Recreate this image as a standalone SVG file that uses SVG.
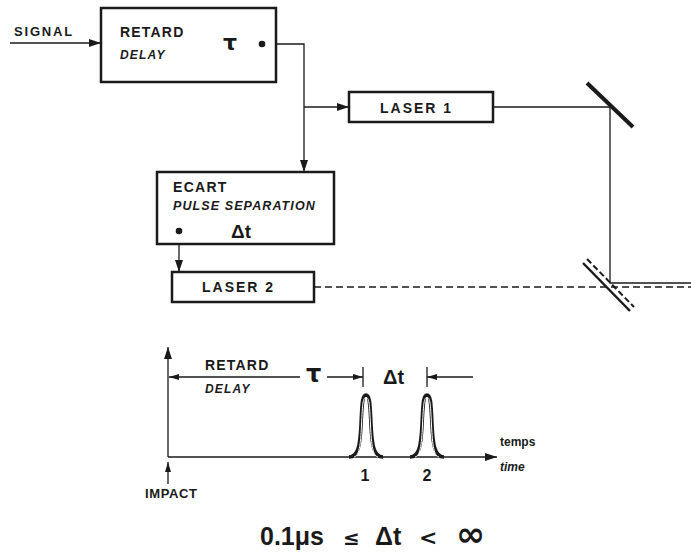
<svg xmlns="http://www.w3.org/2000/svg" width="691" height="558" viewBox="0 0 691 558">
<defs>
<marker id="ah" viewBox="0 0 12 8" refX="12" refY="4" markerWidth="12" markerHeight="8" markerUnits="userSpaceOnUse" orient="auto"><path d="M0,0 L12,4 L0,8 Z" fill="#1a1a1a"/></marker>
<marker id="ahs" viewBox="0 0 10 6" refX="10" refY="3" markerWidth="10" markerHeight="6" markerUnits="userSpaceOnUse" orient="auto"><path d="M0,0 L10,3 L0,6 Z" fill="#1a1a1a"/></marker>
</defs>
<style>
.box{fill:#fff;stroke:#1a1a1a;stroke-width:2.5}
.ln{fill:none;stroke:#1a1a1a;stroke-width:1.3}
.dash{fill:none;stroke:#1a1a1a;stroke-width:1.3;stroke-dasharray:7 4}
.b{font-family:"Liberation Sans",Arial,sans-serif;font-weight:bold;fill:#1a1a1a}
.i{font-family:"Liberation Sans",Arial,sans-serif;font-weight:bold;font-style:italic;fill:#1a1a1a}
.g{font-family:"DejaVu Sans",sans-serif;font-weight:bold;fill:#1a1a1a}
.pulse{fill:none;stroke:#1a1a1a;stroke-width:3.6}
.pin{fill:none;stroke:#fff;stroke-width:1}
</style>
<rect width="691" height="558" fill="#fff"/>

<g id="connectors">
<line class="ln" x1="10" y1="43" x2="101" y2="43" marker-end="url(#ah)"/>
<polyline class="ln" points="262,44 304,44 304,172" marker-end="url(#ah)"/>
<line class="ln" x1="304" y1="107" x2="349" y2="107" marker-end="url(#ah)"/>
<line class="ln" x1="179" y1="231" x2="179" y2="272" marker-end="url(#ah)"/>
<polyline class="ln" points="493,107 610,107 610,283 691,283"/>
<line class="dash" x1="314" y1="287" x2="691" y2="287"/>
</g>

<g id="signal"><text class="b" x="14" y="36" font-size="13" letter-spacing="1.8">SIGNAL</text></g>

<g id="retard">
<rect class="box" x="101" y="8" width="175" height="74"/>
<text class="b" x="120" y="37" font-size="14" letter-spacing="1.2">RETARD</text>
<text class="i" x="120" y="59" font-size="12" letter-spacing="1.2">DELAY</text>
<text class="g" x="223" y="50" font-size="22">τ</text>
<circle cx="262" cy="44" r="3.3" fill="#1a1a1a"/>
</g>

<g id="laser1">
<rect class="box" x="349" y="92" width="144" height="30"/>
<text class="b" x="380" y="113" font-size="14" letter-spacing="2">LASER  1</text>
</g>

<g id="ecart">
<rect class="box" x="157" y="172" width="177" height="72"/>
<text class="b" x="173" y="192" font-size="14" letter-spacing="1.3">ECART</text>
<text class="i" x="173" y="210" font-size="12.5" letter-spacing="1.1">PULSE  SEPARATION</text>
<text class="b" x="231" y="238" font-size="19">Δt</text>
<circle cx="179" cy="231" r="3.3" fill="#1a1a1a"/>
</g>

<g id="laser2">
<rect class="box" x="172" y="272" width="142" height="30"/>
<text class="b" x="202" y="292" font-size="14" letter-spacing="2">LASER  2</text>
</g>

<g id="mirror1"><line x1="587" y1="83" x2="633" y2="127" stroke="#1a1a1a" stroke-width="4"/></g>
<g id="mirror2">
<line x1="583" y1="263" x2="630" y2="311" stroke="#1a1a1a" stroke-width="2.5"/>
<line x1="587" y1="259" x2="634" y2="307" stroke="#1a1a1a" stroke-width="2" stroke-dasharray="6 3"/>
</g>

<g id="graph">
<line class="ln" x1="168" y1="457" x2="168" y2="347" marker-end="url(#ah)" stroke-width="1.6"/>
<line class="ln" x1="168" y1="457" x2="497" y2="457" marker-end="url(#ah)" stroke-width="1.6"/>
<line class="ln" x1="168" y1="484" x2="168" y2="462" marker-end="url(#ahs)"/>
<text class="b" x="145" y="498" font-size="13" letter-spacing="0.6">IMPACT</text>
<text class="b" x="205" y="370" font-size="14" letter-spacing="1.2">RETARD</text>
<text class="i" x="205" y="393" font-size="12" letter-spacing="1.2">DELAY</text>
<line class="ln" x1="300" y1="377" x2="169" y2="377" marker-end="url(#ahs)"/>
<text class="g" x="306" y="382" font-size="24">τ</text>
<line class="ln" x1="327" y1="377" x2="363" y2="377" marker-end="url(#ahs)"/>
<line class="ln" x1="363" y1="367" x2="363" y2="387"/>
<text class="b" x="383" y="384" font-size="20">Δt</text>
<line class="ln" x1="427" y1="367" x2="427" y2="387"/>
<line class="ln" x1="473" y1="377" x2="427" y2="377" marker-end="url(#ahs)"/>
<path class="pulse" d="M349,457 C358,457 360,446 361,425 C362,401 362.5,395 366,395 C369.5,395 370,401 371,425 C372,446 374,457 383,457"/>
<path class="pin" d="M354,457 C359,456 360.6,446 361.5,425 C362.5,403 363,397.5 366,397.5 C369,397.5 369.5,403 370.5,425 C371.4,446 373,456 378,457"/>
<path class="pulse" d="M410,457 C419,457 421,446 422,425 C423,401 423.5,395 427,395 C430.5,395 431,401 432,425 C433,446 435,457 444,457"/>
<path class="pin" d="M415,457 C420,456 421.6,446 422.5,425 C423.5,403 424,397.5 427,397.5 C430,397.5 430.5,403 431.5,425 C432.4,446 434,456 439,457"/>
<text class="b" x="365" y="481" font-size="16" text-anchor="middle">1</text>
<text class="b" x="427" y="481" font-size="16" text-anchor="middle">2</text>
<text class="b" x="500" y="446" font-size="12">temps</text>
<text class="i" x="500" y="471" font-size="12">time</text>
</g>

<g id="formula">
<text class="b" x="260" y="545" font-size="25">0.1μs</text>
<text class="g" x="343" y="545" font-size="20">≤</text>
<text class="b" x="375" y="545" font-size="25">Δt</text>
<text class="g" x="419" y="545" font-size="22">&lt;</text>
<text class="g" x="456" y="546" font-size="35">∞</text>
</g>
</svg>
